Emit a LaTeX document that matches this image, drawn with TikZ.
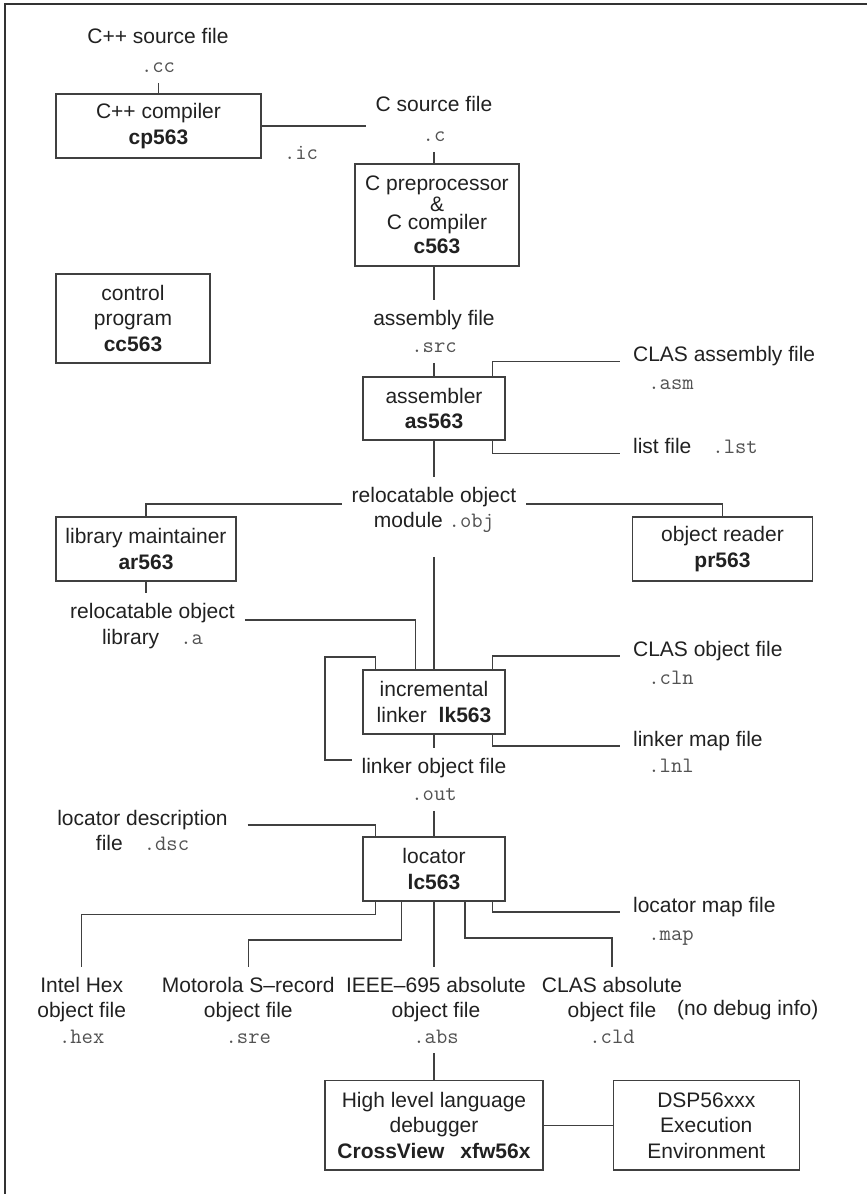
\documentclass[tikz,border=0pt]{standalone}
\usepackage{tikz}
\usepackage{fontspec}
\setsansfont{Liberation Sans}
\renewcommand{\familydefault}{\sfdefault}
\definecolor{ink}{gray}{0.13}
\definecolor{rule}{gray}{0.25}
\definecolor{extgray}{gray}{0.32}
\newcommand{\ext}[1]{{\ttfamily\fontsize{11}{12.75}\selectfont\color{extgray}#1}}
\tikzset{
	every node/.style={font=\sffamily\fontsize{10.5}{12.75}\selectfont, text=ink},
	prog/.style 2 args={draw=rule, line width=0.65pt, align=center, inner sep=0pt, minimum width=#1, minimum height=#2},
	file/.style={align=center, inner sep=0pt, outer sep=5pt},
	side/.style={anchor=base west, inner sep=0pt},
	link/.style={draw=rule, line width=0.6pt},
}
\begin{document}
\begin{tikzpicture}[x=0.5pt, y=-0.5pt]
	\useasboundingbox (0,0) rectangle (867,1194);
	\draw[line width=1pt, draw=black!80] (5,1194) -- (5,4) -- (867,4);
	\node[file] (cppsrc) at (158,50.5) {C++ source file\\[2pt]\ext{.cc}};
	\node[prog={102.5pt}{32pt}] (cpp) at (158.5,126) {C++ compiler\\\textbf{cp563}};
	\node[file] (csrc) at (434,119) {C source file\\[2.5pt]\ext{.c}};
	\node[file] (ic) at (301,153) {\ext{.ic}};
	\node[prog={82pt}{51pt}] (ccomp) at (437,215) {C preprocessor\\[-2.25pt]\&\\[-3.75pt]C compiler\\[-0.75pt]\textbf{c563}};
	\node[prog={77pt}{44.5pt}] (ctrl) at (133,318.5) {control\\program\\\textbf{cc563}};
	\node[file] (asmf) at (434,331.5) {assembly file\\[1pt]\ext{.src}};
	\node[prog={71pt}{31.5pt}] (asm) at (434,408.5) {assembler\\\textbf{as563}};
	\node[side] (clasasm) at (632.7,361.3) {CLAS assembly file};
	\node[side] (clasasmx) at (648,389) {\ext{.asm}};
	\node[side] (lst) at (632.7,453.5) {list file\quad\ext{.lst}};
	\node[file] (obj) at (434,510) {relocatable object\\module\ \ext{.obj}};
	\node[prog={90pt}{32pt}] (ar) at (146,549) {library maintainer\\\textbf{ar563}};
	\node[prog={89.8pt}{32pt}] (pr) at (722.5,549) {object reader\\\textbf{pr563}};
	\node[file] (lib) at (152.5,626) {relocatable object\\library\quad\ext{.a}};
	\node[prog={71pt}{32pt}] (lk) at (434,702) {incremental\\linker\hspace{3pt} \textbf{lk563}};
	\node[side] (clasobj) at (632.7,656) {CLAS object file};
	\node[side] (clasobjx) at (648,684) {\ext{.cln}};
	\node[side] (lnk) at (632.7,746) {linker map file};
	\node[side] (lnkx) at (648,772.7) {\ext{.lnl}};
	\node[file] (out) at (434,779.5) {linker object file\\[1pt]\ext{.out}};
	\node[file] (dsc) at (142.5,830.5) {locator description\\file\quad\ext{.dsc}};
	\node[prog={71pt}{32pt}] (lc) at (434,869) {locator\\\textbf{lc563}};
	\node[side] (map) at (632.7,912) {locator map file};
	\node[side] (mapx) at (648,940) {\ext{.map}};
	\node[file] (hex) at (81.7,1010) {Intel Hex\\object file\\\ext{.hex}};
	\node[file] (sre) at (248.3,1010) {Motorola S\textendash record\\object file\\\ext{.sre}};
	\node[file] (abs) at (436,1010) {IEEE\textendash 695 absolute\\object file\\\ext{.abs}};
	\node[file] (cld) at (612,1010) {CLAS absolute\\object file\\\ext{.cld}};
	\node[anchor=west, inner sep=0pt] (nodbg) at (676.7,1010) {(no debug info)};
	\node[prog={109pt}{44.7pt}] (dbg) at (434,1125.3) {High level language\\debugger\\\textbf{CrossView\hspace{8pt}xfw56x}};
	\node[prog={93pt}{44.7pt}] (dsp) at (706.3,1125.3) {DSP56xxx\\Execution\\Environment};
	\draw[link] (cppsrc.south -| cpp.north) -- (cpp.north);
	\draw[link] (cpp.east) -- (cpp.east -| csrc.west);
	\draw[link] (csrc.south) -- (csrc.south |- ccomp.north);
	\draw[link] (ccomp.south -| asmf.north) -- (asmf.north);
	\draw[link] (asmf.south) -- (asm.north);
	\draw[link] ([xshift=-6.65pt]asm.north east) |- ([xshift=-6.35pt]clasasm.base west);
	\draw[link] ([xshift=-6.65pt]asm.south east) |- ([xshift=-6.35pt]lst.base west);
	\draw[link] (asm.south) -- (obj.north);
	\draw[link] ([yshift=3pt]obj.west) -| (ar.north);
	\draw[link] ([yshift=3pt]obj.east) -| (pr.north);
	\draw[link] ([yshift=-7pt]obj.south) -- (lk.north);
	\draw[link] (ar.south) -- (ar.south |- lib.north);
	\draw[link] ([yshift=3pt]lib.east) -| ([xshift=-9.35pt]lk.north);
	\draw[link] ([yshift=9.75pt]out.west) -- ++(-26.7,0) |- ([xshift=6.65pt,yshift=6.15pt]lk.north west) -- ([xshift=6.65pt]lk.north west);
	\draw[link] ([xshift=-6.65pt]lk.north east) |- ([xshift=-6.35pt]clasobj.base west);
	\draw[link] ([xshift=-6.65pt]lk.south east) |- ([xshift=-6.35pt]lnk.base west);
	\draw[link] (lk.south) -- (out.north);
	\draw[link] (out.south) -- (lc.north);
	\draw[link] ([yshift=2.75pt,xshift=5pt]dsc.east) -| ([xshift=6.65pt]lc.north west);
	\draw[link] ([xshift=6.65pt]lc.south west) -- ++(0,13) -| (hex.north);
	\draw[link] ([xshift=19.5pt]lc.south west) -- ++(0,38.3) -| (sre.north);
	\draw[link] (lc.south) -- (lc.south |- abs.north);
	\draw[link] ([xshift=-20.35pt]lc.south east) -- ++(0,36.3) -| (cld.north);
	\draw[link] ([xshift=-6.65pt]lc.south east) |- ([xshift=-6.35pt]map.base west);
	\draw[link] (abs.south -| dbg.north) -- (dbg.north);
	\draw[link] (dbg.east) -- (dsp.west);
\end{tikzpicture}
\end{document}
